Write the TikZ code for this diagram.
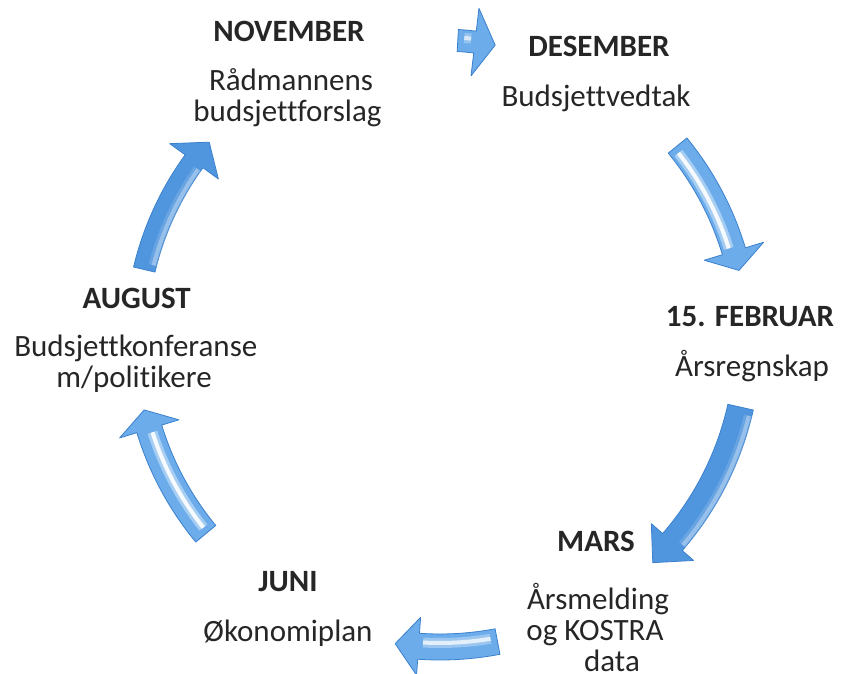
\documentclass[tikz,border=0pt]{standalone}
\usepackage{fontspec}
\setmainfont[Ligatures=CommonOff]{Carlito}
\definecolor{arrowblue}{RGB}{80,150,222}
\definecolor{arrowlight}{RGB}{108,172,234}
\definecolor{arrowedge}{RGB}{58,128,205}
\tikzset{
  phase/.style={font=\bfseries\fontsize{31}{31}\selectfont, anchor=base, inner sep=0pt, text=black!85},
  task/.style={font=\fontsize{31}{31}\selectfont, anchor=base, inner sep=0pt, text=black!85},
}
% curved block arrow on a circle around the origin, running clockwise
% #1 radius, #2 tail angle, #3 head base angle, #4 tip angle,
% #5 half body width, #6 half head width, #7 highlight offset, #8 highlight strength, #9 fill colour
\newcommand\cycarrow[9]{%
  \pgfmathsetmacro\caOut{#1+#5}%
  \pgfmathsetmacro\caIn{#1-#5}%
  \pgfmathsetmacro\caHOut{#1+#6}%
  \pgfmathsetmacro\caHIn{#1-#6}%
  \pgfmathsetmacro\caS{#1+#7}%
  \pgfmathsetmacro\caSa{#2-1.2}%
  \pgfmathsetmacro\caSb{#3+0.8}%
  \pgfmathsetmacro\caOpA{0.4*#8}%
  \pgfmathsetmacro\caOpB{0.9*#8}%
  \filldraw[fill=#9, draw=arrowedge, line width=0.8pt, line join=round]
    (#2:\caOut) arc[start angle=#2, end angle=#3, radius=\caOut]
    -- (#3:\caHOut) -- (#4:#1) -- (#3:\caHIn) -- (#3:\caIn)
    arc[start angle=#3, end angle=#2, radius=\caIn] -- cycle;
  \draw[white, line width=10pt, opacity=\caOpA]
    (\caSa:\caS) arc[start angle=\caSa, end angle=\caSb, radius=\caS];
  \draw[white, line width=4pt, opacity=\caOpB]
    (\caSa:\caS) arc[start angle=\caSa, end angle=\caSb, radius=\caS];
}
\begin{document}
\begin{tikzpicture}[x=1pt, y=1pt]
  \useasboundingbox (0,0) rectangle (841,674);
  \clip (0,0) rectangle (841,674);

  % the six arrows of the yearly cycle
  \begin{scope}[shift={(440,334)}]
    \cycarrow{300}{86.6}{83.3}{79.4}{11}{34}{3}{0.7}{arrowlight}
    \cycarrow{307}{39.3}{16.8}{13.1}{12}{31}{-4}{1}{arrowlight}
    \cycarrow{308}{-12.6}{-41}{-46.3}{13}{28}{10}{0.35}{arrowblue}
    \cycarrow{307}{-79.2}{-94}{-98.4}{13}{29}{-4}{0.8}{arrowlight}
    \cycarrow{304}{219.6}{197}{193.3}{13}{31}{-2}{1}{arrowlight}
    \cycarrow{304}{166.6}{144}{139.4}{11}{30}{-8}{0.35}{arrowblue}
  \end{scope}

  % November
  \node[phase] (nov) at (289,632) {NOVEMBER};
  \node[task] (nov1) at (291,583) {Rådmannens};
  \node[task] (nov2) at (287.5,552.5) {budsjettforslag};

  % December
  \node[phase] (des) at (599,617.3) {DESEMBER};
  \node[task] (des1) at (596,567.3) {Budsjettvedtak};

  % February
  \node[phase] (feb) at (750,347.3) {15. FEBRUAR};
  \node[task] (feb1) at (752,297.3) {Årsregnskap};

  % March
  \node[phase] (mar) at (596,122) {MARS};
  \node[task] (mar1) at (598,64) {Årsmelding};
  \node[task] (mar2) at (595,33) {og KOSTRA};
  \node[task] (mar3) at (612,2) {data};

  % June
  \node[phase] (jun) at (288,82.3) {JUNI};
  \node[task] (jun1) at (288,32.3) {Økonomiplan};

  % August
  \node[phase] (aug) at (136.7,365.7) {AUGUST};
  \node[task] (aug1) at (135.8,317.3) {Budsjettkonferanse};
  \node[task] (aug2) at (134,286) {m/politikere};
\end{tikzpicture}
\end{document}
